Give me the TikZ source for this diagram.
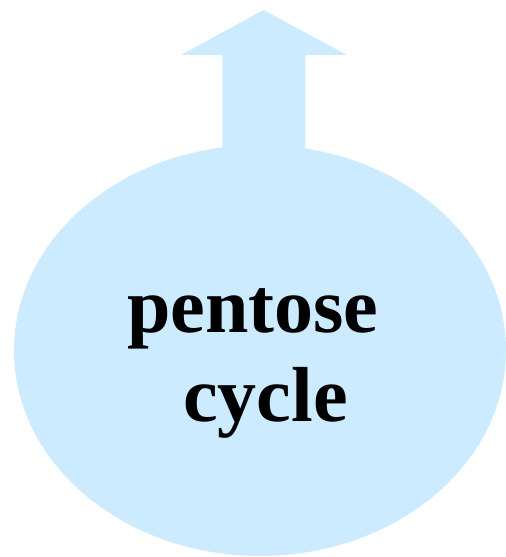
\documentclass[tikz,border=0pt]{standalone}
\usepackage{fontspec}
\setmainfont{Liberation Serif}
\definecolor{pale}{HTML}{CCEBFF}
\begin{document}
\begin{tikzpicture}[x=1pt,y=1pt,
  label text/.style={inner sep=0pt,anchor=base west,font=\fontsize{78}{92}\selectfont\bfseries}]
\useasboundingbox (0,0) rectangle (506,557);
% arrow
\fill[pale] (222.3,400) -- (222.3,502) -- (181,502) -- (263.5,547) -- (347,502) -- (305.3,502) -- (305.3,400) -- cycle;
% ellipse
\fill[pale] (260,206.5) ellipse [x radius=246, y radius=205.5];
\node[label text] (t1) at (127,224) {pentose};
\node[label text] (t2) at (183,135) {cycle};
\end{tikzpicture}
\end{document}
